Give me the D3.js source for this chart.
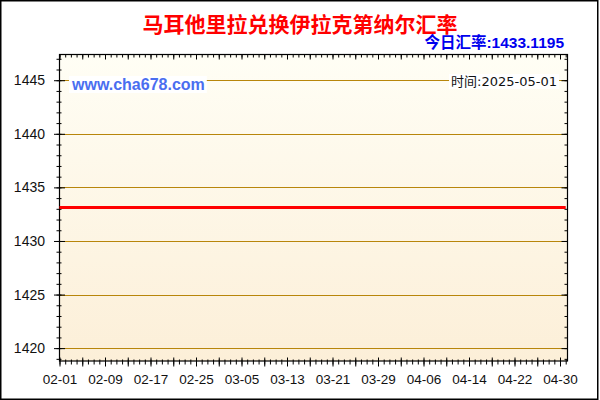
<!DOCTYPE html>
<html lang="zh">
<head>
<meta charset="UTF-8">
<title>马耳他里拉兑换伊拉克第纳尔汇率</title>
<script src="https://d3js.org/d3.v7.min.js"></script>
<style>
  body { margin: 0; background: #fff; }
  svg text { font-family: "Liberation Sans", Arial, sans-serif; }
</style>
</head>
<body>
<svg class="chart"></svg>
<script>
const W = 600, H = 400
const title = '马耳他里拉兑换伊拉克第纳尔汇率'
const todayText = '今日汇率:1433.1195'
const siteText = 'www.cha678.com'
const timeText = '时间:2025-05-01'

// rate samples (flat over the period)
const dates = ['2025-02-01', '2025-02-09', '2025-02-17', '2025-02-25', '2025-03-05', '2025-03-13', '2025-03-21',
  '2025-03-29', '2025-04-06', '2025-04-14', '2025-04-22', '2025-04-30', '2025-05-01']
const rates = [1433.1195, 1433.1195, 1433.1195, 1433.1195, 1433.1195, 1433.1195, 1433.1195,
  1433.1195, 1433.1195, 1433.1195, 1433.1195, 1433.1195, 1433.1195]

const xTickLabels = ['02-01', '02-09', '02-17', '02-25', '03-05', '03-13', '03-21', '03-29', '04-06', '04-14', '04-22', '04-30']
const yTicks = [1420, 1425, 1430, 1435, 1440, 1445]

const parse = d3.timeParse('%Y-%m-%d')
const data = dates.map((d, i) => ({ date: parse(d), rate: rates[i] }))
const labelDates = xTickLabels.map(s => parse('2025-' + s))

const plotL = 59.5, plotR = 567.5, plotT = 54.5, plotB = 361

const x = d3.scaleTime()
  .domain([parse('2025-02-01'), parse('2025-05-01')])
  .range([plotL, 565.7])
const y = d3.scaleLinear()
  .domain([1418.8, 1447.4])
  .range([plotB, plotT])

const svg = d3.select('.chart').attr('width', W).attr('height', H)
  .attr('viewBox', `0 0 ${W} ${H}`)

// outer frame
svg.append('rect').attr('x', 0.75).attr('y', 0.75).attr('width', W - 3).attr('height', H - 1.5)
  .attr('fill', '#fff').attr('stroke', '#000').attr('stroke-width', 1.5)

const grad = svg.append('defs').append('linearGradient').attr('id', 'bg')
  .attr('x1', 0).attr('y1', 0).attr('x2', 0).attr('y2', 1)
grad.append('stop').attr('offset', '0%').attr('stop-color', '#fffef5')
grad.append('stop').attr('offset', '100%').attr('stop-color', '#fcefd8')

svg.append('rect').attr('x', plotL).attr('y', plotT)
  .attr('width', plotR - plotL).attr('height', plotB - plotT)
  .attr('fill', 'url(#bg)')

// grid
svg.append('g').selectAll('line').data(yTicks).join('line')
  .attr('x1', plotL).attr('x2', plotR)
  .attr('y1', d => Math.round(y(d)) + 0.5).attr('y2', d => Math.round(y(d)) + 0.5)
  .attr('stroke', '#b8860b').attr('stroke-width', 1)

const days = d3.timeDay.range(parse('2025-02-01'), parse('2025-05-02'))
const majorDays = days.filter((d, i) => i % 4 == 0)
const yMinor = d3.range(1419, 1448)

function tickGroup(axis, tx, ty) {
  const g = svg.append('g').attr('transform', `translate(${tx},${ty})`).call(axis)
  g.select('.domain').remove()
  g.selectAll('text').remove()
  g.selectAll('line').attr('stroke', '#000')
  return g
}

// bottom ticks (crossing the axis line)
tickGroup(d3.axisBottom(x).tickValues(days).tickSize(5), 0, plotB - 1.5)
tickGroup(d3.axisBottom(x).tickValues(majorDays).tickSize(9), 0, plotB - 3.5)
// top ticks pointing in
tickGroup(d3.axisBottom(x).tickValues(days).tickSize(3), 0, plotT)
tickGroup(d3.axisBottom(x).tickValues(majorDays).tickSize(5), 0, plotT)
// left ticks
tickGroup(d3.axisRight(y).tickValues(yMinor).tickSize(5), plotL - 3, 0)
tickGroup(d3.axisRight(y).tickValues(yTicks).tickSize(11), plotL - 5.5, 0)
// right ticks pointing in
tickGroup(d3.axisLeft(y).tickValues(yMinor).tickSize(3), plotR, 0)
tickGroup(d3.axisLeft(y).tickValues(yTicks).tickSize(6), plotR, 0)

// frame
svg.append('rect').attr('x', plotL).attr('y', plotT)
  .attr('width', plotR - plotL).attr('height', plotB - plotT)
  .attr('fill', 'none').attr('stroke', '#000').attr('stroke-width', 1.2)

// labels
const xAxis = svg.append('g').attr('transform', `translate(0,${plotB})`)
  .call(d3.axisBottom(x).tickValues(labelDates).tickFormat(d3.timeFormat('%m-%d')).tickSize(0).tickPadding(13))
xAxis.select('.domain').remove()
xAxis.selectAll('text').attr('font-size', 13.5).attr('fill', '#111')
  .attr('font-family', '"Liberation Sans", Arial, sans-serif')

const yAxis = svg.append('g').attr('transform', `translate(45,0)`)
  .call(d3.axisLeft(y).tickValues(yTicks).tickFormat(d3.format('d')).tickSize(0).tickPadding(0))
yAxis.select('.domain').remove()
yAxis.selectAll('text').attr('font-size', 14).attr('fill', '#111')
  .attr('font-family', '"Liberation Sans", Arial, sans-serif')

// watermark texts with white boxes
function boxedText(tx, ty, anchor, text, size, weight, color, family) {
  const g = svg.append('g')
  const rect = g.append('rect').attr('fill', '#fff')
  const t = g.append('text').attr('x', tx).attr('y', ty).attr('text-anchor', anchor)
    .attr('font-size', size).attr('font-weight', weight).attr('fill', color)
    .style('font-family', family).text(text)
  const b = t.node().getBBox()
  rect.attr('x', b.x - 2).attr('y', b.y).attr('width', b.width + 4).attr('height', b.height)
}
boxedText(72, 90, 'start', siteText, 16, 'bold', '#4a6ef0', '"Liberation Sans", Arial, sans-serif')
boxedText(557, 86, 'end', timeText, 13, 'normal', '#111', '"DejaVu Sans", "Noto Sans CJK SC", sans-serif')

// rate line
svg.append('path').datum(data)
  .attr('fill', 'none').attr('stroke', '#ff0000').attr('stroke-width', 3)
  .attr('d', d3.line().x(d => x(d.date)).y(d => y(d.rate)))

// titles
svg.append('text').attr('x', 300).attr('y', 32).attr('text-anchor', 'middle')
  .attr('font-size', 21).attr('font-weight', 'bold').attr('fill', '#ff0000')
  .style('font-family', '"Noto Sans CJK SC", sans-serif').text(title)
svg.append('text').attr('x', 564).attr('y', 48).attr('text-anchor', 'end')
  .attr('font-size', 15.5).attr('font-weight', 'bold').attr('fill', '#0000ee')
  .style('font-family', '"Liberation Sans", "Noto Sans CJK SC", sans-serif').text(todayText)
</script>
</body>
</html>
